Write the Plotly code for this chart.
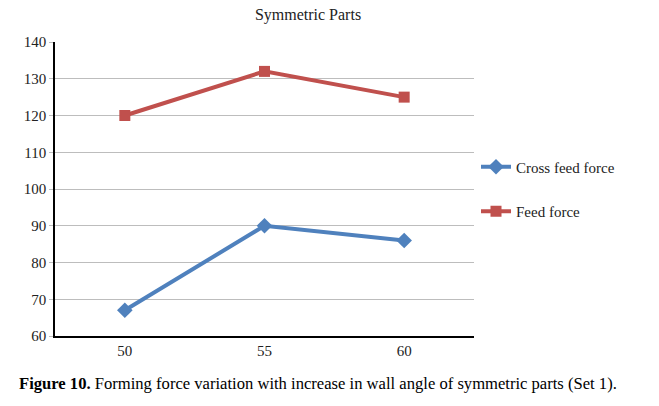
import plotly.graph_objects as go

categories = ["50", "55", "60"]
cross_feed = [67, 90, 86]
feed = [120, 132, 125]
y_ticks = [60, 70, 80, 90, 100, 110, 120, 130, 140]

W, H = 659, 406
L, R, T, B = 55, 185, 42, 70
pw, ph = W - L - R, H - T - B

font = "Liberation Serif, Times New Roman, serif"

fig = go.Figure()
fig.add_trace(go.Scatter(
    x=categories, y=cross_feed, name="Cross feed force", mode="lines+markers",
    line=dict(color="#4F81BD", width=4),
    marker=dict(symbol="diamond", size=12, color="#4F81BD"),
    legendgroup="a",
))
fig.add_trace(go.Scatter(
    x=categories, y=feed, name="Feed force", mode="lines+markers",
    line=dict(color="#C0504D", width=4),
    marker=dict(symbol="square", size=11, color="#C0504D"),
    legendgroup="b",
))

fig.update_layout(
    width=W, height=H,
    margin=dict(l=L, r=R, t=T, b=B),
    paper_bgcolor="white", plot_bgcolor="white",
    font=dict(family=font, size=15, color="#222"),
    title=dict(text="Symmetric Parts", x=308 / W, xanchor="center",
               y=1 - 14 / H, yanchor="middle", font=dict(size=16, family=font, color="#222")),
    showlegend=True,
    legend=dict(x=(476 - L) / pw, xanchor="left", y=0.5, yanchor="middle",
                tracegroupgap=22, font=dict(size=15, family=font, color="#222"),
                bgcolor="rgba(0,0,0,0)", itemwidth=30),
    xaxis=dict(type="category", range=[-0.5, 2.5], showgrid=False,
               showline=True, linecolor="black", linewidth=1.5,
               ticks="", ticklen=0, tickfont=dict(size=15, family=font)),
    yaxis=dict(range=[60, 140], tickvals=y_ticks, showgrid=True, gridcolor="#BDBDBD",
               gridwidth=1, showline=True, linecolor="black", linewidth=1.5,
               ticks="outside", ticklen=4, tickcolor="#BDBDBD", zeroline=False,
               tickfont=dict(size=15, family=font)),
)

fig.add_annotation(
    xref="paper", yref="paper", x=(17 - L) / pw, y=-(383 - (T + ph)) / ph,
    xanchor="left", yanchor="middle", showarrow=False,
    text="<b>Figure 10.</b> Forming force variation with increase in wall angle of symmetric parts (Set 1).",
    font=dict(size=16.6, family=font, color="black"),
)

fig.write_html("out.html")
